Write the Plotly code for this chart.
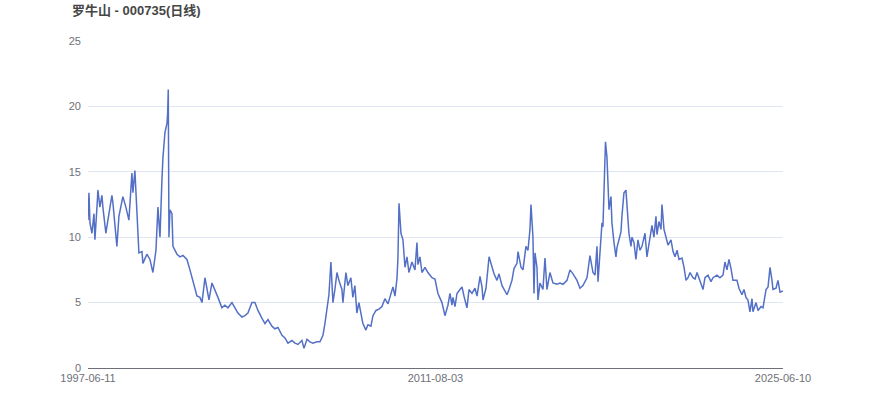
import plotly.graph_objects as go

title_text = "罗牛山 - 000735(日线)"

# daily close, sampled by eye from the reference
dates = [
    "1997-06-11", "1997-06-25", "1997-07-10", "1997-08-08", "1997-09-07", "1997-09-21",
    "1997-10-21", "1997-11-04", "1997-12-03", "1998-01-02", "1998-01-16", "1998-03-01",
    "1998-03-31", "1998-05-29", "1998-06-13", "1998-08-10", "1998-09-09", "1998-11-06",
    "1998-12-20", "1999-02-03", "1999-03-19", "1999-04-03", "1999-05-02", "1999-06-01",
    "1999-06-16", "1999-06-30", "1999-08-14", "1999-08-28", "1999-10-26", "1999-12-09",
    "2000-01-22", "2000-03-07", "2000-04-05", "2000-05-05", "2000-06-03", "2000-06-18",
    "2000-07-17", "2000-08-16", "2000-08-26", "2000-09-04", "2000-09-14", "2000-09-29",
    "2000-10-28", "2000-11-12", "2001-01-10", "2001-02-23", "2001-04-08", "2001-06-06",
    "2001-07-20", "2001-09-02", "2001-10-31", "2001-12-14", "2002-01-13", "2002-02-26",
    "2002-03-27", "2002-04-26", "2002-06-09", "2002-07-23", "2002-09-05", "2002-11-02",
    "2002-12-16", "2003-01-30", "2003-03-30", "2003-05-13", "2003-06-26", "2003-08-24",
    "2003-10-07", "2003-11-20", "2004-01-18", "2004-03-02", "2004-04-16", "2004-06-14",
    "2004-07-28", "2004-09-10", "2004-11-07", "2004-12-21", "2005-02-04", "2005-04-04",
    "2005-05-18", "2005-07-01", "2005-08-29", "2005-10-12", "2005-11-25", "2006-01-23",
    "2006-02-22", "2006-04-07", "2006-05-20", "2006-07-03", "2006-08-31", "2006-10-15",
    "2006-11-28", "2006-12-27", "2007-01-25", "2007-02-24", "2007-03-25", "2007-04-24",
    "2007-05-23", "2007-06-22", "2007-07-21", "2007-09-03", "2007-09-18", "2007-11-01",
    "2007-11-30", "2008-01-13", "2008-02-11", "2008-03-12", "2008-04-10", "2008-05-10",
    "2008-06-23", "2008-07-08", "2008-08-21", "2008-09-20", "2008-11-03", "2008-12-03",
    "2009-01-16", "2009-03-01", "2009-04-14", "2009-05-28", "2009-07-12", "2009-08-25",
    "2009-09-23", "2009-10-23", "2009-11-22", "2009-12-06", "2009-12-21", "2010-01-19",
    "2010-02-17", "2010-03-19", "2010-04-17", "2010-05-16", "2010-06-30", "2010-08-13",
    "2010-09-11", "2010-09-26", "2010-10-25", "2010-11-24", "2011-01-07", "2011-02-20",
    "2011-04-20", "2011-06-03", "2011-07-17", "2011-09-14", "2011-10-28", "2011-12-11",
    "2012-01-10", "2012-02-08", "2012-02-23", "2012-03-24", "2012-04-22", "2012-06-05",
    "2012-07-05", "2012-08-03", "2012-09-16", "2012-10-16", "2012-11-29", "2013-01-12",
    "2013-02-11", "2013-03-27", "2013-04-25", "2013-05-10", "2013-06-23", "2013-08-07",
    "2013-09-20", "2013-10-19", "2013-12-02", "2013-12-31", "2014-02-14", "2014-03-15",
    "2014-04-28", "2014-05-28", "2014-07-10", "2014-08-09", "2014-09-22", "2014-10-07",
    "2014-11-20", "2014-12-19", "2015-02-01", "2015-03-03", "2015-04-01", "2015-04-16",
    "2015-05-15", "2015-05-30", "2015-06-14", "2015-07-13", "2015-07-28", "2015-08-26",
    "2015-10-09", "2015-11-08", "2015-12-07", "2016-01-20", "2016-03-04", "2016-05-02",
    "2016-06-16", "2016-07-30", "2016-09-27", "2016-11-10", "2016-12-24", "2017-02-21",
    "2017-04-06", "2017-05-19", "2017-07-18", "2017-08-31", "2017-10-14", "2017-11-13",
    "2017-12-12", "2017-12-27", "2018-01-25", "2018-02-24", "2018-03-10", "2018-04-09",
    "2018-04-16", "2018-05-08", "2018-05-23", "2018-06-07", "2018-07-06", "2018-07-20",
    "2018-08-19", "2018-09-17", "2018-10-02", "2018-10-31", "2018-11-30", "2018-12-14",
    "2019-01-13", "2019-02-11", "2019-02-26", "2019-03-27", "2019-04-26", "2019-05-11",
    "2019-06-09", "2019-07-08", "2019-08-07", "2019-09-06", "2019-10-05", "2019-11-18",
    "2019-12-17", "2020-01-30", "2020-02-29", "2020-03-29", "2020-04-28", "2020-05-13",
    "2020-06-11", "2020-07-11", "2020-07-25", "2020-08-24", "2020-09-23", "2020-10-22",
    "2020-12-05", "2021-01-04", "2021-02-02", "2021-03-04", "2021-04-02", "2021-05-16",
    "2021-06-15", "2021-07-14", "2021-08-13", "2021-09-11", "2021-10-25", "2021-11-24",
    "2021-12-23", "2022-02-05", "2022-03-21", "2022-04-19", "2022-06-02", "2022-07-16",
    "2022-08-15", "2022-10-12", "2022-11-25", "2023-01-09", "2023-02-07", "2023-03-09",
    "2023-04-07", "2023-05-07", "2023-06-05", "2023-08-03", "2023-09-01", "2023-10-15",
    "2023-11-14", "2023-12-13", "2024-01-11", "2024-02-10", "2024-03-11", "2024-03-25",
    "2024-05-09", "2024-06-08", "2024-07-22", "2024-08-20", "2024-10-03", "2024-11-02",
    "2024-12-01", "2024-12-30", "2025-01-14", "2025-02-27", "2025-03-28", "2025-04-27",
    "2025-06-10",
]

close = [
    11.3, 13.4, 11.1, 10.3, 11.8, 9.8,
    12.3, 13.6, 12.3, 13.2, 12.3, 10.3,
    11.3, 13.2, 12.6, 9.3, 11.6, 13.1,
    12.3, 11.3, 14.9, 13.4, 15.1, 11.8,
    11.3, 8.8, 8.9, 8.0, 8.7, 8.3,
    7.3, 9.0, 12.3, 10.0, 14.4, 16.1,
    18.0, 18.7, 19.5, 21.3, 10.0, 12.1,
    11.8, 9.3, 8.7, 8.5, 8.6, 8.3,
    7.5, 6.7, 5.5, 5.4, 5.0, 6.9,
    6.0, 5.2, 6.5, 6.0, 5.4, 4.6,
    4.8, 4.6, 5.0, 4.6, 4.2, 3.9,
    4.0, 4.2, 5.0, 5.0, 4.4, 3.8,
    3.4, 3.7, 3.2, 3.0, 3.1, 2.5,
    2.3, 1.9, 2.1, 1.9, 1.8, 2.1,
    1.5, 2.2, 2.0, 1.9, 2.0, 2.0,
    2.5, 3.4, 4.7, 5.6, 8.1, 5.0,
    6.0, 7.3, 6.7, 6.0, 5.0, 7.3,
    6.3, 6.9, 5.4, 6.3, 4.2, 5.0,
    3.8, 3.4, 2.9, 3.3, 3.2, 4.0,
    4.4, 4.5, 4.7, 5.3, 4.9, 5.7,
    6.2, 5.5, 6.9, 8.5, 12.6, 10.3,
    9.8, 7.7, 8.5, 7.3, 8.1, 7.5,
    9.6, 7.9, 8.5, 7.3, 7.7, 7.3,
    6.9, 6.8, 5.7, 5.0, 4.0, 4.8,
    5.7, 4.8, 5.4, 4.7, 5.7, 6.0,
    6.2, 5.5, 4.6, 6.0, 5.7, 6.1,
    5.5, 7.0, 6.2, 5.2, 6.1, 8.5,
    7.7, 7.2, 6.7, 7.2, 6.3, 6.0,
    5.6, 6.0, 6.7, 7.6, 8.0, 8.9,
    7.7, 7.5, 9.3, 9.0, 10.6, 12.5,
    10.0, 5.7, 8.8, 7.7, 5.2, 6.5,
    6.0, 8.4, 6.0, 7.3, 6.5, 6.4,
    6.5, 6.4, 6.7, 7.5, 7.2, 6.7,
    6.1, 6.3, 6.9, 8.6, 7.3, 7.1,
    9.3, 6.6, 9.3, 11.1, 10.8, 14.9,
    17.3, 16.1, 14.0, 12.1, 13.1, 11.1,
    9.6, 8.5, 9.2, 9.8, 10.4, 11.6,
    13.4, 13.6, 12.6, 10.3, 9.3, 10.0,
    9.6, 8.3, 9.8, 9.0, 9.3, 10.3,
    8.5, 10.0, 10.9, 10.0, 11.6, 10.2,
    11.2, 10.6, 12.5, 10.6, 10.0, 9.4,
    9.8, 8.9, 8.5, 9.0, 8.3, 8.4,
    7.7, 6.7, 6.9, 7.3, 6.9, 6.8,
    7.3, 6.6, 6.0, 6.9, 7.1, 6.6,
    6.9, 7.1, 6.9, 7.1, 8.1, 7.5,
    8.3, 7.6, 6.7, 6.7, 6.1, 5.6,
    6.0, 5.4, 5.2, 4.3, 5.3, 4.3,
    5.0, 4.4, 4.7, 4.6, 6.0, 6.2,
    7.7, 6.7, 6.0, 6.1, 6.7, 5.8,
    5.9,
]

# category-style axis: first, middle and last labels
tick_dates = ["1997-06-11", "2011-06-10", "2025-06-10"]
tick_labels = ["1997-06-11", "2011-08-03", "2025-06-10"]

font_family = "Liberation Sans, Arial, Noto Sans CJK SC, sans-serif"

fig = go.Figure()
fig.add_trace(go.Scatter(
    x=dates,
    y=close,
    mode="lines",
    line=dict(color="#5470c6", width=1.5),
    hoverinfo="x+y",
    showlegend=False,
))

fig.update_layout(
    width=870,
    height=417,
    margin=dict(l=88, r=87, t=41, b=49),
    paper_bgcolor="white",
    plot_bgcolor="white",
    font=dict(family=font_family, size=12, color="#6E7079"),
    title=dict(
        text="<b>" + title_text + "</b>",
        font=dict(family=font_family, size=13, color="#464646"),
        xref="container", yref="container",
        x=72 / 870, xanchor="left",
        y=1 - 10 / 417, yanchor="middle",
    ),
)

fig.update_xaxes(
    type="date",
    range=[dates[0], dates[-1]],
    tickvals=tick_dates,
    ticktext=tick_labels,
    showgrid=False,
    showline=True,
    linecolor="#6E7079",
    linewidth=1,
    ticks="",
    zeroline=False,
    tickfont=dict(size=11, color="#6E7079"),
)
fig.update_yaxes(
    range=[0, 25],
    tickvals=[0, 5, 10, 15, 20, 25],
    showgrid=True,
    gridcolor="#E0E6F1",
    gridwidth=1,
    zeroline=False,
    showline=False,
    ticks="",
    ticklabelstandoff=6,
    tickfont=dict(size=11, color="#6E7079"),
)

# drop the browser's default body margin so the chart sits flush at the top-left
fig.write_html(
    "out.html",
    config={"displayModeBar": False},
    post_script="document.body.style.margin = '0';",
)
